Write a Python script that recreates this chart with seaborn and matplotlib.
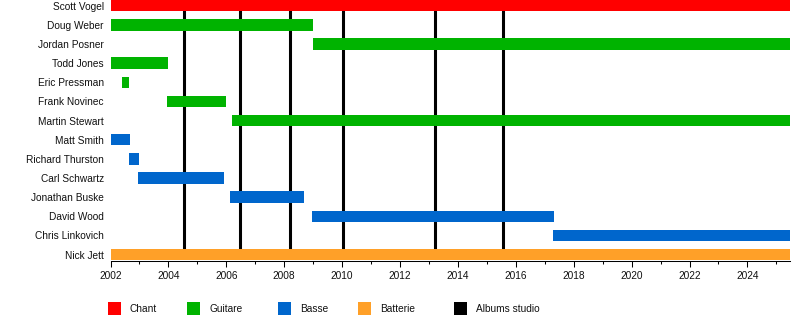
import matplotlib
matplotlib.use("Agg")
import matplotlib.pyplot as plt
from matplotlib.patches import Rectangle
from matplotlib.ticker import MultipleLocator
import seaborn as sns
import pandas as pd

# ---- data ----
members = ["Scott Vogel", "Doug Weber", "Jordan Posner", "Todd Jones", "Eric Pressman",
           "Frank Novinec", "Martin Stewart", "Matt Smith", "Richard Thurston",
           "Carl Schwartz", "Jonathan Buske", "David Wood", "Chris Linkovich", "Nick Jett"]
starts = [2002.0, 2002.0, 2009.0, 2002.0, 2002.40, 2003.95, 2006.20, 2002.0, 2002.64,
          2002.95, 2006.13, 2008.97, 2017.28, 2002.0]
ends = [2025.47, 2009.0, 2025.47, 2003.98, 2002.64, 2005.99, 2025.47, 2002.67, 2002.98,
        2005.92, 2008.68, 2017.32, 2025.47, 2025.47]
roles = ["Chant", "Guitare", "Guitare", "Guitare", "Guitare", "Guitare", "Guitare",
         "Basse", "Basse", "Basse", "Basse", "Basse", "Basse", "Batterie"]
albums = [2004.55, 2006.47, 2008.20, 2010.04, 2013.22, 2015.57]
legend_labels = ["Chant", "Guitare", "Basse", "Batterie", "Albums studio"]
role_colors = {"Chant": "#FF0000", "Guitare": "#00B300", "Basse": "#0066CC",
               "Batterie": "#FFA028", "Albums studio": "#000000"}
year_min, year_max = 2002.0, 2025.47

df = pd.DataFrame({"member": members, "start": starts, "end": ends, "role": roles})
df["pos"] = range(len(df))

sns.set_theme(style="white")
plt.rcParams["font.family"] = ["Liberation Sans", "DejaVu Sans"]

fig = plt.figure(figsize=(8, 3.2), dpi=100)
ax = fig.add_axes([110.5 / 800, 1 - 260.5 / 320, (790 - 110.5) / 800, 260.5 / 320])

# album lines span from first to last row (hidden behind the full-width bars)
ax.vlines(albums, df["pos"].min(), df["pos"].max(), color="black", linewidth=2.2, zorder=1)
ax.barh(df["pos"], df["end"] - df["start"], left=df["start"], height=0.6,
        color=[role_colors[r] for r in df["role"]], linewidth=0, zorder=2)

ax.set_xlim(year_min, year_max)
ax.set_ylim(len(df) - 1 + 0.31, -0.30)
ax.set_yticks(df["pos"])
ax.set_yticklabels(df["member"], fontsize=7.3, color="#111111")
ax.tick_params(axis="y", length=0, pad=4.7)

ax.xaxis.set_major_locator(MultipleLocator(2))
ax.xaxis.set_minor_locator(MultipleLocator(1))
ax.set_xticks(range(2002, 2026, 2))
ax.set_xticklabels([str(y) for y in range(2002, 2026, 2)], fontsize=7.3, color="#111111")
ax.tick_params(axis="x", which="major", bottom=True, length=4.3, width=0.75,
               color="black", pad=3)
ax.tick_params(axis="x", which="minor", bottom=True, length=2.2, width=0.75, color="black")
ax.set_xlabel("")
ax.set_ylabel("")
ax.grid(False)

sns.despine(ax=ax, left=True, top=True, right=True)
ax.spines["bottom"].set_color("black")
ax.spines["bottom"].set_linewidth(0.75)

# legend (figure pixel layout)
sq_x = [108, 187, 278, 358, 454]
txt_x = [130, 209, 300, 380, 476]
for lab, sx, tx in zip(legend_labels, sq_x, txt_x):
    fig.add_artist(Rectangle((sx / 800, 1 - 314.5 / 320), 13 / 800, 13 / 320,
                             transform=fig.transFigure, facecolor=role_colors[lab],
                             edgecolor="none"))
    fig.text(tx / 800, 1 - 308.5 / 320, lab, fontsize=7.3, va="center", ha="left",
             color="#111111")

fig.savefig("out.png", dpi=100)
